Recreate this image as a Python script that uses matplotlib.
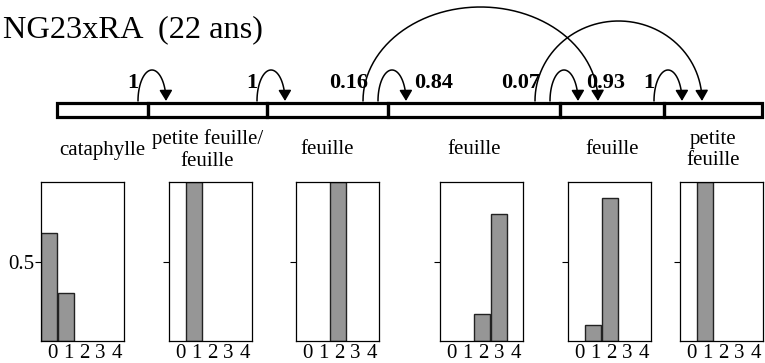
import numpy as np
import matplotlib
matplotlib.use("Agg")
import matplotlib.pyplot as plt
from matplotlib.patches import Rectangle, FancyArrowPatch
from matplotlib.path import Path

plt.rcParams["font.family"] = ["Liberation Serif", "DejaVu Serif"]

# données
title = "NG23xRA  (22 ans)"
segment_labels = ["cataphylle", "petite feuille/\nfeuille", "feuille", "feuille", "feuille", "petite\nfeuille"]
categories = [0, 1, 2, 3, 4]
freq_seg1 = [0.68, 0.30, 0, 0, 0]
freq_seg2 = [0, 1.0, 0, 0, 0]
freq_seg3 = [0, 0, 1.0, 0, 0]
freq_seg4 = [0, 0, 0.17, 0.80, 0]
freq_seg5 = [0, 0.10, 0.90, 0, 0]
freq_seg6 = [0, 1.0, 0, 0, 0]
trans_from = [0, 1, 2, 2, 3, 3, 4]
trans_to = [1, 2, 3, 4, 4, 5, 5]
trans_prob = [1, 1, 0.84, 0.16, 0.93, 0.07, 1]

freqs = [freq_seg1, freq_seg2, freq_seg3, freq_seg4, freq_seg5, freq_seg6]

# mise en page (pixels)
W, H = 765, 363
seg_edges = [57, 148, 267, 388, 560, 664, 762]
strip_top, strip_bot = 103, 117
panel_left = [41, 169, 296, 440, 568, 680]
panel_w = 83
panel_top, panel_bot = 182.4, 341

fig = plt.figure(figsize=(W / 100, H / 100), dpi=100)
ax0 = fig.add_axes([0, 0, 1, 1])
ax0.set_xlim(0, W)
ax0.set_ylim(H, 0)
ax0.axis("off")

ax0.text(3, 37, title, fontsize=23.3, ha="left", va="baseline")

# bande des segments
for i in range(len(segment_labels)):
    x0, x1 = seg_edges[i], seg_edges[i + 1]
    ax0.add_patch(Rectangle((x0, strip_top), x1 - x0, strip_bot - strip_top,
                            fill=False, lw=2.3, ec="black", zorder=2))
    ax0.text((x0 + x1) / 2, 150, segment_labels[i], fontsize=15,
             ha="center", va="center", linespacing=1.2)

# arcs de transition
n_out = {f: trans_from.count(f) for f in set(trans_from)}
for f, t, p in zip(trans_from, trans_to, trans_prob):
    if t - f == 1:
        xs, xe, h = seg_edges[f + 1] - 10, seg_edges[t] + 18, 31
    else:
        xs, xe = seg_edges[f + 1] - 25, seg_edges[t] + 38
        h = 94 if f == 2 else 80
    th = np.linspace(0, np.pi, 60)
    xc, a = (xs + xe) / 2, (xe - xs) / 2
    px = xc - a * np.cos(th)
    py = strip_top - 2 - h * np.sin(th)
    verts = np.column_stack([px, py])
    arr = FancyArrowPatch(path=Path(verts), arrowstyle="-|>,head_length=0.5,head_width=0.3",
                          mutation_scale=13, lw=1.1, color="black", zorder=3)
    ax0.add_patch(arr)
    lab = f"{p:g}"
    if t - f == 1 and n_out[f] > 1:
        ax0.text(xe + 8, 88, lab, fontsize=16, fontweight="bold", ha="left", va="baseline")
    elif t - f == 1:
        ax0.text(xs, 88, lab, fontsize=16, fontweight="bold", ha="right", va="baseline")
    else:
        ax0.text(xs + 5, 88, lab, fontsize=16, fontweight="bold", ha="right", va="baseline")

# histogrammes
for i, vals in enumerate(freqs):
    rect = [panel_left[i] / W, 1 - panel_bot / H, panel_w / W, (panel_bot - panel_top) / H]
    ax = fig.add_axes(rect)
    cats = [c for c, v in zip(categories, vals) if v > 0]
    hs = [v for v in vals if v > 0]
    ax.bar(cats, hs, width=0.96, color="#969696", edgecolor="#222222", lw=1.0)
    ax.set_xlim(-0.48, 4.4)
    ax.set_ylim(0, 1)
    ax.set_xticks([0.2 + 0.94 * c for c in categories])
    ax.set_xticklabels([str(c) for c in categories], fontsize=15)
    ax.tick_params(axis="x", length=0, pad=2)
    ax.set_yticks([0.5])
    ax.tick_params(axis="y", length=4, width=0.8, direction="out", pad=1)
    if i == 0:
        ax.set_yticklabels(["0.5"], fontsize=15)
    else:
        ax.set_yticklabels([""])
    for s in ax.spines.values():
        s.set_linewidth(0.9)

fig.savefig("out.png", dpi=100)
